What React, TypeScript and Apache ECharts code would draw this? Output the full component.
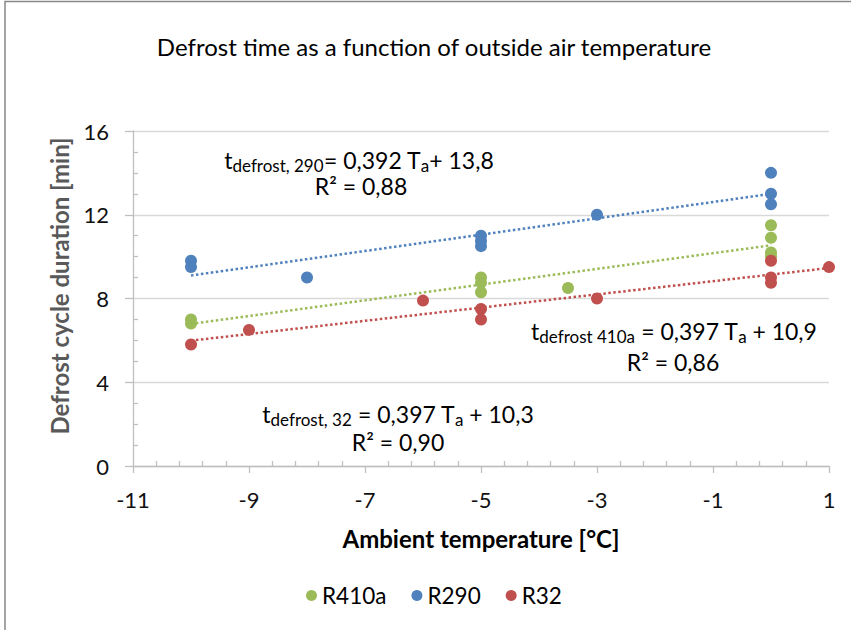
import React, { useEffect, useRef } from "react";
import * as echarts from "echarts";

const seriesNames = ["R410a", "R290", "R32"];
const seriesColors = ["#9BBB59", "#4F81BD", "#C0504D"];

const r410aX = [-10, -10, -5, -5, -5, -3.5, 0, 0, 0, 0];
const r410aY = [7.0, 6.8, 9.0, 8.75, 8.3, 8.5, 11.5, 10.9, 10.2, 10.0];
const r290X = [-10, -10, -8, -5, -5, -5, -3, 0, 0, 0];
const r290Y = [9.8, 9.5, 9.0, 11.0, 10.75, 10.5, 12.0, 14.0, 13.0, 12.5];
const r32X = [-10, -9, -6, -5, -5, -3, 0, 0, 0, 1];
const r32Y = [5.8, 6.5, 7.9, 7.5, 7.0, 8.0, 9.8, 9.0, 8.75, 9.5];

const xMin = -11;
const xMax = 1;
const xStep = 2;
const yMin = 0;
const yMax = 16;
const yStep = 4;

const titleText = "Defrost time as a function of outside air temperature";
const xName = "Ambient temperature [°C]";
const yName = "Defrost cycle duration [min]";

const FONT = "Lato, 'Noto Sans', sans-serif";

function pairs(xs: number[], ys: number[]) {
  return xs.map((x, i) => [x, ys[i]]);
}

// Least-squares linear trendline, drawn across the data range (as the spreadsheet does)
function trend(xs: number[], ys: number[]) {
  const n = xs.length;
  const mx = xs.reduce((a, b) => a + b, 0) / n;
  const my = ys.reduce((a, b) => a + b, 0) / n;
  let sxy = 0;
  let sxx = 0;
  for (let i = 0; i < n; i++) {
    sxy += (xs[i] - mx) * (ys[i] - my);
    sxx += (xs[i] - mx) * (xs[i] - mx);
  }
  const b = sxy / sxx;
  const a = my - b * mx;
  const x0 = Math.min(...xs);
  const x1 = Math.max(...xs);
  return [
    [x0, a + b * x0],
    [x1, a + b * x1],
  ];
}

const richStyles = {
  m: { fontSize: 23, fontFamily: FONT, fill: "#000", lineHeight: 28 },
  s: { fontSize: 17, fontFamily: FONT, fill: "#000", lineHeight: 14, verticalAlign: "bottom" },
};

function eqText(x: number, y: number, text: string) {
  return {
    type: "text",
    x,
    y,
    z: 100,
    style: {
      text,
      rich: richStyles,
      align: "center",
      verticalAlign: "middle",
      fontSize: 23,
      fontFamily: FONT,
      fill: "#000",
    },
  };
}

export default function App() {
  const ref = useRef<HTMLDivElement>(null);

  useEffect(() => {
    if (!ref.current) return;
    const chart = echarts.init(ref.current, undefined, { renderer: "svg" });

    const data = [pairs(r410aX, r410aY), pairs(r290X, r290Y), pairs(r32X, r32Y)];
    const trends = [trend(r410aX, r410aY), trend(r290X, r290Y), trend(r32X, r32Y)];

    const axisGrey = "#BFBFBF";

    const option: any = {
      animation: false,
      backgroundColor: "#fff",
      title: {
        text: titleText,
        left: 434,
        top: 34,
        textAlign: "center",
        padding: 0,
        textStyle: { fontSize: 24, fontWeight: "normal", fontFamily: FONT, color: "#000" },
      },
      legend: {
        data: seriesNames,
        left: 306,
        top: 584,
        padding: 0,
        icon: "circle",
        itemWidth: 11,
        itemHeight: 11,
        itemGap: 25,
        itemTextGap: 13,
        textStyle: { fontSize: 22.5, fontFamily: FONT, color: "#000" },
      },
      grid: { left: 133, right: 22, top: 131, bottom: 164, containLabel: false },
      xAxis: [
        {
          type: "value",
          min: xMin,
          max: xMax,
          interval: xStep,
          name: xName,
          nameLocation: "middle",
          nameGap: 60,
          nameTextStyle: { fontSize: 24, fontWeight: "bold", fontFamily: FONT, color: "#000" },
          axisLine: { show: true, onZero: false, lineStyle: { color: axisGrey, width: 1.3 } },
          axisTick: { show: true, length: 7, lineStyle: { color: axisGrey, width: 1.3 } },
          minorTick: { show: false },
          axisLabel: { fontSize: 22, fontFamily: FONT, color: "#111", margin: 22 },
          splitLine: { show: false },
        },
        {
          type: "value",
          position: "bottom",
          min: xMin,
          max: xMax,
          interval: xStep,
          axisLine: { show: false, onZero: false },
          axisTick: { show: false, inside: true },
          minorTick: { show: true, splitNumber: 5, length: 5, lineStyle: { color: axisGrey, width: 1.3 } },
          axisLabel: { show: false },
          splitLine: { show: false },
        },
      ],
      yAxis: [
        {
          type: "value",
          min: yMin,
          max: yMax,
          interval: yStep,
          axisLine: { show: true, onZero: false, lineStyle: { color: axisGrey, width: 1.3 } },
          axisTick: { show: true, length: 8, lineStyle: { color: axisGrey, width: 1.3 } },
          minorTick: { show: false },
          axisLabel: { fontSize: 22, fontFamily: FONT, color: "#111", margin: 24 },
          splitLine: { show: true, lineStyle: { color: "#D9D9D9", width: 1.3 } },
        },
        {
          type: "value",
          position: "left",
          min: yMin,
          max: yMax,
          interval: yStep,
          axisLine: { show: false, onZero: false },
          axisTick: { show: false, inside: true },
          minorTick: { show: true, splitNumber: 4, length: 5, lineStyle: { color: axisGrey, width: 1.3 } },
          axisLabel: { show: false },
          splitLine: { show: false },
        },
      ],
      series: [
        ...seriesNames.map((name, i) => ({
          name: name + " trend",
          type: "line",
          xAxisIndex: 0,
          yAxisIndex: 0,
          data: trends[i],
          symbol: "none",
          silent: true,
          z: 1,
          lineStyle: { color: seriesColors[i], width: 2.5, type: "dotted" },
        })),
        ...seriesNames.map((name, i) => ({
          name,
          type: "scatter",
          xAxisIndex: 0,
          yAxisIndex: 0,
          data: data[i],
          symbol: "circle",
          symbolSize: 12,
          z: 2,
          itemStyle: { color: seriesColors[i], opacity: 1 },
        })),
      ],
      graphic: [
        {
          type: "rect",
          shape: { x: 5, y: 1.5, width: 900, height: 700 },
          style: { fill: "none", stroke: "#888", lineWidth: 1.5 },
          silent: true,
        },
        {
          type: "text",
          x: 59,
          y: 286,
          rotation: Math.PI / 2,
          style: {
            text: yName,
            align: "center",
            verticalAlign: "middle",
            fontSize: 24,
            fontWeight: "bold",
            fontFamily: FONT,
            fill: "#595959",
          },
        },
        eqText(359, 160, "{m|t}{s|defrost, 290}{m|= 0,392 T}{s|a}{m|+ 13,8}"),
        eqText(361, 186, "{m|R² = 0,88}"),
        eqText(674, 331, "{m|t}{s|defrost 410a}{m| = 0,397 T}{s|a}{m| + 10,9}"),
        eqText(673, 362, "{m|R² = 0,86}"),
        eqText(398, 414, "{m|t}{s|defrost, 32}{m| = 0,397 T}{s|a}{m| + 10,3}"),
        eqText(398, 442, "{m|R² = 0,90}"),
      ],
    };

    chart.setOption(option);
    return () => chart.dispose();
  }, []);

  return (
    <div
      ref={ref}
      style={{ position: "absolute", left: 0, top: 0, width: 851, height: 630, background: "#fff" }}
    />
  );
}
